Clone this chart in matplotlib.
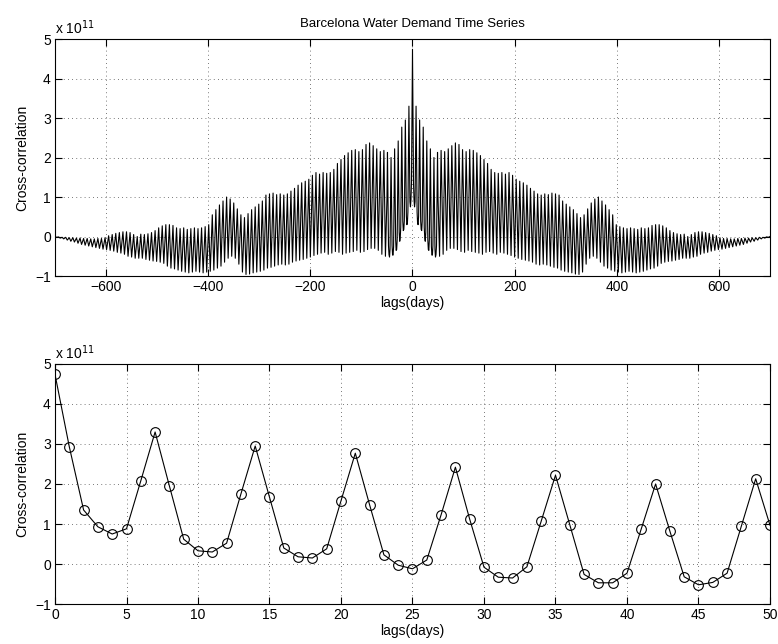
import numpy as np
import matplotlib
matplotlib.use('Agg')
import matplotlib.pyplot as plt

plt.rcParams['font.family'] = ['Liberation Sans', 'DejaVu Sans']
plt.rcParams['font.size'] = 10
plt.rcParams['xtick.direction'] = 'in'
plt.rcParams['ytick.direction'] = 'in'
plt.rcParams['axes.linewidth'] = 0.8

# --- data (cross-correlation in units of 1e11) ---
# daily values, lags 0..50 (lower panel)
daily_lags = list(range(0, 51))
daily_vals = [4.74, 2.93, 1.35, 0.93, 0.75, 0.88, 2.08, 3.30, 1.95, 0.62,
              0.33, 0.30, 0.52, 1.75, 2.95, 1.67, 0.40, 0.18, 0.15, 0.38,
              1.58, 2.77, 1.48, 0.23, -0.03, -0.12, 0.10, 1.23, 2.42, 1.12,
              -0.08, -0.33, -0.35, -0.07, 1.07, 2.22, 0.98, -0.26, -0.47, -0.47,
              -0.23, 0.88, 2.00, 0.82, -0.32, -0.52, -0.46, -0.23, 0.95, 2.13,
              0.97]

# weekly peaks (lags 56, 63, ..., 700)
peak_lags = list(range(56, 701, 7))
peak_vals = [2.18, 2.15, 2.22, 2.30, 2.37, 2.33, 2.20, 2.15, 2.20, 2.18,
             2.12, 2.05, 1.95, 1.85, 1.70, 1.62, 1.60, 1.62, 1.58, 1.62,
             1.55, 1.45, 1.40, 1.36, 1.30, 1.22, 1.15, 1.08, 1.05, 1.08,
             1.06, 1.10, 1.08, 1.05, 0.90, 0.82, 0.75, 0.68, 0.58, 0.48,
             0.55, 0.70, 0.85, 0.95, 1.00, 0.90, 0.80, 0.68, 0.55, 0.30,
             0.25, 0.22, 0.20, 0.22, 0.20, 0.18, 0.22, 0.20, 0.22, 0.28,
             0.30, 0.30, 0.27, 0.22, 0.15, 0.10, 0.07, 0.05, 0.06, 0.00,
             0.05, 0.10, 0.12, 0.12, 0.10, 0.08, 0.05, 0.02, -0.03, -0.05,
             -0.05, -0.06, -0.06, -0.05, -0.05, -0.04, -0.04, -0.03, -0.03, -0.02,
             -0.02, -0.01, 0.00]

# weekly troughs (lags 53, 60, ..., 697)
trough_lags = list(range(53, 698, 7))
trough_vals = [-0.50, -0.45, -0.35, -0.30, -0.30, -0.33, -0.38, -0.40, -0.35, -0.38,
               -0.40, -0.42, -0.45, -0.40, -0.38, -0.42, -0.45, -0.40, -0.42, -0.45,
               -0.48, -0.52, -0.55, -0.58, -0.60, -0.62, -0.65, -0.70, -0.72, -0.70,
               -0.72, -0.75, -0.78, -0.80, -0.85, -0.88, -0.90, -0.92, -0.95, -0.96,
               -0.90, -0.70, -0.55, -0.50, -0.55, -0.65, -0.75, -0.80, -0.85, -0.88,
               -0.90, -0.92, -0.90, -0.88, -0.90, -0.92, -0.90, -0.88, -0.85, -0.82,
               -0.80, -0.75, -0.68, -0.65, -0.63, -0.62, -0.60, -0.58, -0.55, -0.55,
               -0.55, -0.52, -0.50, -0.45, -0.42, -0.40, -0.37, -0.35, -0.33, -0.32,
               -0.30, -0.28, -0.26, -0.24, -0.22, -0.20, -0.17, -0.14, -0.12, -0.09,
               -0.06, -0.04, -0.02]

# positive side: daily values then alternating trough / peak
pos_lags = list(daily_lags)
pos_vals = list(daily_vals)
for tl, tv, pl, pv in zip(trough_lags, trough_vals, peak_lags, peak_vals):
    pos_lags += [tl, pl]
    pos_vals += [tv, pv]
pos_lags = np.array(pos_lags)
pos_vals = np.array(pos_vals)

# autocorrelation is symmetric about lag 0
all_lags = np.concatenate([-pos_lags[:0:-1], pos_lags])
all_vals = np.concatenate([pos_vals[:0:-1], pos_vals])

fig = plt.figure(figsize=(7.78, 6.44), dpi=100)
ax1 = fig.add_axes([0.0707, 0.5714, 0.919, 0.368])
ax2 = fig.add_axes([0.0707, 0.0621, 0.919, 0.3727])

ax1.plot(all_lags, all_vals, color='black', linewidth=0.8)
ax1.set_xlim(-700, 700)
ax1.set_ylim(-1, 5)
ax1.set_xticks(np.arange(-600, 601, 200))
ax1.set_yticks(np.arange(-1, 6, 1))
ax1.set_xlabel('lags(days)', labelpad=1)
ax1.set_ylabel('Cross-correlation')
ax1.set_title('Barcelona Water Demand Time Series', fontsize=9.5, pad=9)
ax1.text(0.0, 1.01, r'x 10$^{11}$', transform=ax1.transAxes, fontsize=10,
         ha='left', va='bottom')

ax2.plot(daily_lags, daily_vals, color='black', linewidth=0.8, marker='o',
         markersize=7, markerfacecolor='none', markeredgewidth=0.8)
ax2.set_xlim(0, 50)
ax2.set_ylim(-1, 5)
ax2.set_xticks(np.arange(0, 51, 5))
ax2.set_yticks(np.arange(-1, 6, 1))
ax2.set_xlabel('lags(days)', labelpad=1)
ax2.set_ylabel('Cross-correlation')
ax2.text(0.0, 1.01, r'x 10$^{11}$', transform=ax2.transAxes, fontsize=10,
         ha='left', va='bottom')

for ax in (ax1, ax2):
    ax.grid(True, linestyle=(0, (1, 4)), color='black', linewidth=0.6, alpha=0.7)
    ax.tick_params(top=True, right=True, length=5, width=0.8, pad=3)
    ax.set_axisbelow(True)

fig.savefig('out.png', dpi=100)
